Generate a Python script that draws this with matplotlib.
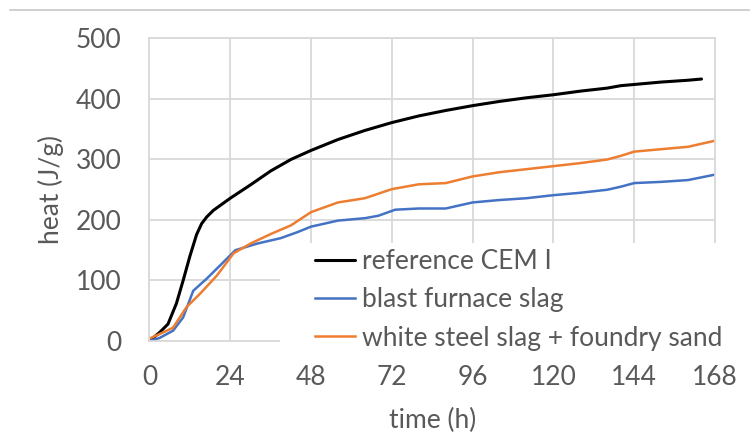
import matplotlib
matplotlib.use("Agg")
import matplotlib.pyplot as plt
from matplotlib.lines import Line2D
from matplotlib.patches import Rectangle

# cumulative heat of hydration, read per series
t_ref = [0, 3, 5.5, 8, 10, 12, 14, 15.5, 17, 19, 21, 24, 30, 36, 42, 48, 56, 64, 72, 80, 88, 96,
         104, 112, 120, 128, 136, 140, 144, 152, 160, 164]
q_ref = [0, 14, 28, 62, 100, 140, 176, 194, 205, 216, 224, 236, 258, 281, 300, 315, 333, 348,
         361, 372, 381, 389, 396, 402, 407, 413, 418, 422, 424, 428, 431, 433]

t_bfs = [0, 3, 7, 10, 13, 17, 21, 25.5, 32, 39, 44, 48, 56, 64, 68, 73, 80, 88, 96, 104, 112,
         120, 128, 136, 140, 144, 152, 160, 168]
q_bfs = [0, 5, 17, 39, 83, 103, 125, 150, 161, 170, 180, 189, 199, 203, 207, 217, 219, 219,
         229, 233, 236, 241, 245, 250, 255, 261, 263, 266, 275]

t_wss = [0, 4, 7, 11, 15, 20, 25, 30, 36.5, 42, 48, 56, 64, 72, 80, 88, 96, 104, 112, 120,
         128, 136, 140, 144, 152, 160, 168]
q_wss = [4, 14, 22, 56, 78, 108, 145, 161, 178, 191, 213, 229, 236, 251, 259, 261, 272, 279,
         284, 289, 294, 300, 306, 313, 317, 321, 331]

labels = ["reference CEM I", "blast furnace slag", "white steel slag + foundry sand"]
x_ticks = [0, 24, 48, 72, 96, 120, 144, 168]
y_ticks = [0, 100, 200, 300, 400, 500]

plt.rcParams["font.family"] = ["Lato", "DejaVu Sans"]
grey_txt = "#595959"
grid_col = "#d9d9d9"
fs = 19

fig = plt.figure(figsize=(7.5, 4.33), dpi=100)
ax = fig.add_axes([0.1993, 0.2125, 0.754, 0.6986])

ax.plot(t_ref, q_ref, color="black", lw=2.2, label=labels[0], solid_capstyle="round")
ax.plot(t_bfs, q_bfs, color="#4472C4", lw=1.8, label=labels[1])
ax.plot(t_wss, q_wss, color="#ED7D31", lw=1.8, label=labels[2])

ax.set_xlim(0, 168)
ax.set_ylim(0, 500)
ax.set_xticks(x_ticks)
ax.set_yticks(y_ticks)
ax.grid(True, color=grid_col, lw=1.3)
ax.set_axisbelow(True)
for s in ax.spines.values():
    s.set_color(grid_col)
    s.set_linewidth(1.3)
ax.tick_params(length=0, labelsize=fs, colors=grey_txt)
ax.tick_params(axis="x", pad=17)
ax.tick_params(axis="y", pad=20)
ax.set_xlabel("time (h)", fontsize=fs, color=grey_txt)
ax.set_ylabel("heat (J/g)", fontsize=fs, color=grey_txt)
ax.xaxis.set_label_coords(0.5, -0.222)
ax.yaxis.set_label_coords(-0.152, 0.5)

# white panel behind the legend
ax.add_patch(Rectangle((0.2308, -0.05), 0.83, 0.374, transform=ax.transAxes,
                       facecolor="white", edgecolor="none", zorder=4, clip_on=False))
leg = fig.legend(loc="center left", bbox_to_anchor=(315 / 750, 1 - 300 / 433),
                 frameon=False, fontsize=fs, handlelength=1.52, handletextpad=0.27,
                 labelspacing=0.5, borderpad=0, borderaxespad=0)
for txt in leg.get_texts():
    txt.set_color(grey_txt)
leg.set_zorder(5)

# thin rule across the top of the page
fig.add_artist(Line2D([10 / 750, 1], [1 - 10 / 433, 1 - 10 / 433], color="#c8c8c8", lw=1.2,
                      transform=fig.transFigure))

fig.savefig("out.png", dpi=100)
